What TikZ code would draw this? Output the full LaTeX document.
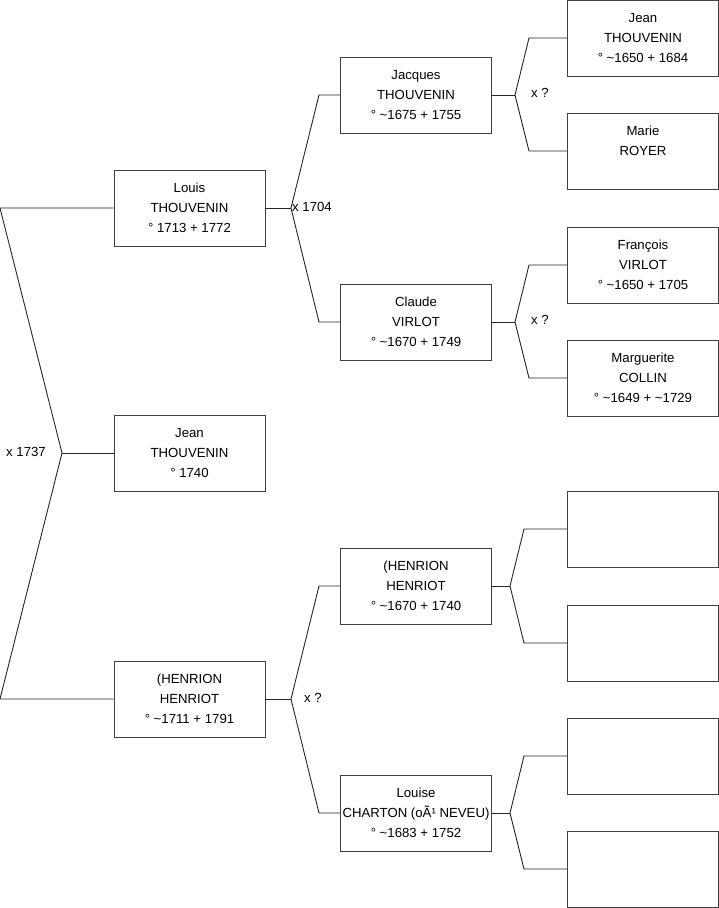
\documentclass[tikz,border=0pt]{standalone}
\usepackage{fontspec}
\setmainfont{Liberation Sans}
\newcommand{\tl}{\textasciitilde}
\begin{document}
\begin{tikzpicture}[x=1pt,y=-1pt,
  person/.style={draw=black!75, line width=0.9pt, minimum width=151pt, minimum height=76pt,
    inner sep=0pt, align=center, font=\fontsize{13.2}{20}\selectfont, fill=white},
  conn/.style={draw=black!85, line width=0.9pt},
  lab/.style={anchor=west, inner sep=0pt, font=\fontsize{13.2}{16}\selectfont}]
\useasboundingbox (0,0) rectangle (719,908);
% level 1
\node[person] (louis) at (189.5,208) {Louis\\THOUVENIN\\° 1713 + 1772};
\node[person] (jean) at (189.5,453) {Jean\\THOUVENIN\\° 1740};
\node[person] (hen) at (189.5,699) {(HENRION\\HENRIOT\\° \tl1711 + 1791};
% level 2
\node[person] (jacques) at (416,95) {Jacques\\THOUVENIN\\° \tl1675 + 1755};
\node[person] (claude) at (416,322) {Claude\\VIRLOT\\° \tl1670 + 1749};
\node[person] (hentwo) at (416,586) {(HENRION\\HENRIOT\\° \tl1670 + 1740};
\node[person] (louise) at (416,813) {Louise\\CHARTON (oÃ¹ NEVEU)\\° \tl1683 + 1752};
% level 3
\node[person] (jeanb) at (643,38) {Jean\\THOUVENIN\\° \tl1650 + 1684};
\node[person] (marie) at (643,151) {Marie\\ROYER\\\mbox{}};
\node[person] (francois) at (643,265) {François\\VIRLOT\\° \tl1650 + 1705};
\node[person] (marguerite) at (643,378) {Marguerite\\COLLIN\\° \tl1649 + \tl1729};
\node[person] (ea) at (643,529) {};
\node[person] (eb) at (643,643) {};
\node[person] (ec) at (643,756) {};
\node[person] (ed) at (643,869) {};
% root fork
\coordinate (rt) at (0,208);
\coordinate (rm) at (62,453);
\coordinate (rb) at (0,699);
\draw[conn] (louis.west) -- (rt) -- (rm) -- (rb) -- (hen.west);
\draw[conn] (rm) -- (jean.west);
\node[lab] (m1737) at (6,452) {x 1737};
% Louis fork
\coordinate (f1) at (291,208);
\coordinate (f1a) at (319,95);
\coordinate (f1b) at (319,322);
\draw[conn] (louis.east) -- (f1);
\draw[conn] (jacques.west) -- (f1a) -- (f1) -- (f1b) -- (claude.west);
\node[lab] (m1704) at (292,207) {x 1704};
% Jacques fork
\coordinate (f2) at (515,95);
\coordinate (f2a) at (529,38);
\coordinate (f2b) at (529,151);
\draw[conn] (jacques.east) -- (f2);
\draw[conn] (jeanb.west) -- (f2a) -- (f2) -- (f2b) -- (marie.west);
\node[lab] (mq1) at (531,93) {x ?};
% Claude fork
\coordinate (f3) at (515,322);
\coordinate (f3a) at (529,265);
\coordinate (f3b) at (529,378);
\draw[conn] (claude.east) -- (f3);
\draw[conn] (francois.west) -- (f3a) -- (f3) -- (f3b) -- (marguerite.west);
\node[lab] (mq2) at (531,320) {x ?};
% Henrion fork
\coordinate (f4) at (291,699);
\coordinate (f4a) at (319,586);
\coordinate (f4b) at (319,813);
\draw[conn] (hen.east) -- (f4);
\draw[conn] (hentwo.west) -- (f4a) -- (f4) -- (f4b) -- (louise.west);
\node[lab] (mq3) at (304,698) {x ?};
% Henrion 2 fork
\coordinate (f5) at (510,586);
\coordinate (f5a) at (524,529);
\coordinate (f5b) at (524,643);
\draw[conn] (hentwo.east) -- (f5);
\draw[conn] (ea.west) -- (f5a) -- (f5) -- (f5b) -- (eb.west);
% Louise fork
\coordinate (f6) at (510,813);
\coordinate (f6a) at (524,756);
\coordinate (f6b) at (524,869);
\draw[conn] (louise.east) -- (f6);
\draw[conn] (ec.west) -- (f6a) -- (f6) -- (f6b) -- (ed.west);
\end{tikzpicture}
\end{document}
